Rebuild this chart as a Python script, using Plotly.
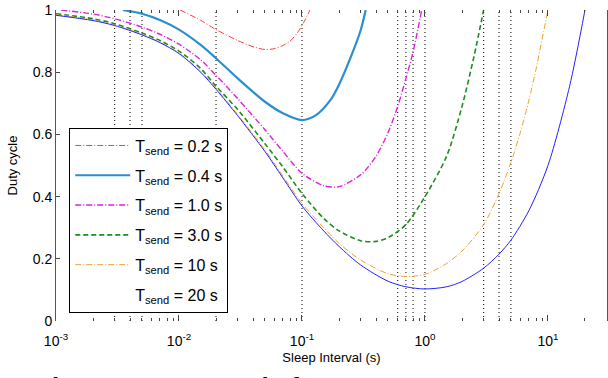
import plotly.graph_objects as go

# ---- data ----
t_02 = [0.0102, 0.015, 0.02, 0.03, 0.04, 0.05, 0.06, 0.07, 0.08, 0.093, 0.105, 0.116]
d_02 = [1.0, 0.967, 0.937, 0.902, 0.882, 0.873, 0.876, 0.886, 0.90, 0.93, 0.965, 1.0]

t_04 = [0.0035, 0.005, 0.007, 0.01, 0.015, 0.02, 0.03, 0.05, 0.07, 0.1, 0.13, 0.17, 0.2, 0.25, 0.3, 0.33]
d_04 = [1.0, 0.988, 0.968, 0.937, 0.888, 0.845, 0.78, 0.705, 0.668, 0.646, 0.662, 0.71, 0.76, 0.85, 0.935, 1.0]

t_10 = [0.0011, 0.002, 0.003, 0.005, 0.007, 0.01, 0.015, 0.02, 0.03, 0.05, 0.07, 0.1, 0.15, 0.2, 0.3, 0.4, 0.5, 0.6, 0.7, 0.8, 0.94]
d_10 = [1.0, 0.987, 0.972, 0.945, 0.922, 0.89, 0.84, 0.79, 0.715, 0.615, 0.545, 0.475, 0.435, 0.432, 0.47, 0.53, 0.605, 0.69, 0.78, 0.865, 1.0]

t_30 = [0.001, 0.002, 0.003, 0.005, 0.007, 0.01, 0.015, 0.02, 0.03, 0.05, 0.07, 0.1, 0.15, 0.2, 0.3, 0.4, 0.5, 0.7, 1.0, 1.5, 2.0, 2.5, 3.0]
d_30 = [0.988, 0.972, 0.956, 0.926, 0.902, 0.868, 0.812, 0.755, 0.68, 0.57, 0.495, 0.41, 0.33, 0.29, 0.258, 0.256, 0.268, 0.31, 0.40, 0.53, 0.69, 0.85, 1.0]

t_100 = [0.001, 0.002, 0.003, 0.005, 0.007, 0.01, 0.015, 0.02, 0.03, 0.05, 0.07, 0.1, 0.15, 0.2, 0.3, 0.5, 0.7, 1.0, 1.5, 2.0, 3.0, 4.0, 5.0, 6.0, 7.0, 8.0, 9.0, 10.0]
d_100 = [0.985, 0.968, 0.952, 0.922, 0.897, 0.862, 0.803, 0.748, 0.664, 0.55, 0.466, 0.378, 0.30, 0.25, 0.196, 0.152, 0.143, 0.15, 0.185, 0.225, 0.31, 0.41, 0.51, 0.61, 0.71, 0.81, 0.91, 1.0]

t_200 = [0.001, 0.002, 0.003, 0.005, 0.007, 0.01, 0.015, 0.02, 0.03, 0.05, 0.07, 0.1, 0.15, 0.2, 0.3, 0.5, 0.7, 1.0, 1.5, 2.0, 3.0, 4.0, 5.0, 7.0, 10.0, 15.0, 20.0]
d_200 = [0.983, 0.966, 0.95, 0.92, 0.895, 0.86, 0.80, 0.745, 0.66, 0.545, 0.46, 0.37, 0.29, 0.24, 0.18, 0.128, 0.11, 0.103, 0.11, 0.127, 0.17, 0.215, 0.26, 0.355, 0.5, 0.755, 1.0]

legend_names = ["T<sub>send</sub> = 0.2 s", "T<sub>send</sub> = 0.4 s", "T<sub>send</sub> = 1.0 s",
                "T<sub>send</sub> = 3.0 s", "T<sub>send</sub> = 10 s", "T<sub>send</sub> = 20 s"]

grid_x = [0.003, 0.004, 0.005, 0.02, 0.1, 0.6, 0.7, 0.8, 1, 3, 4, 5]
major_ticks = [0.001, 0.01, 0.1, 1, 10]
major_text = ["10<sup>-3</sup>", "10<sup>-2</sup>", "10<sup>-1</sup>", "10<sup>0</sup>", "10<sup>1</sup>"]
minor_ticks = [m * 10 ** e for e in (-3, -2, -1, 0, 1) for m in range(2, 10)]
y_ticks = [0, 0.2, 0.4, 0.6, 0.8, 1]
y_text = ["0", "0.2", "0.4", "0.6", "0.8", "1"]

series = [
    (t_02, d_02, "#ff3b3b", 1.0, "6px,2px,1px,2px"),
    (t_04, d_04, "#2a8fd0", 2.2, "solid"),
    (t_10, d_10, "#dd22dd", 1.4, "6px,2px,1px,2px"),
    (t_30, d_30, "#1e8c1e", 1.6, "5px,3px"),
    (t_100, d_100, "#f0a030", 1.0, "6px,2px,1px,2px"),
    (t_200, d_200, "#2222ff", 1.0, "solid"),
]

fig = go.Figure()
for i, (tx, dy, col, w, dash) in enumerate(series):
    last = i == len(series) - 1
    fig.add_trace(go.Scatter(
        x=tx, y=dy, mode="lines", name=legend_names[i],
        line=dict(color=col, width=w, dash=dash, shape="spline", smoothing=0.8),
        legendgroup=f"g{i}", showlegend=not last))
# legend entry for the last series (no visible sample in the reference)
fig.add_trace(go.Scatter(x=[None], y=[None], mode="lines", name=legend_names[-1],
                         line=dict(color="rgba(0,0,0,0)", width=1), legendgroup="g5"))

for gx in grid_x:
    fig.add_shape(type="line", xref="x", yref="paper", x0=gx, x1=gx, y0=0, y1=1,
                  line=dict(color="black", width=1, dash="1px,3px"), layer="below")

font = "Liberation Sans, Arial, sans-serif"
fig.update_layout(
    width=608, height=378,
    margin=dict(l=56, r=1, t=10, b=57),
    paper_bgcolor="white", plot_bgcolor="white",
    font=dict(family=font, size=14, color="black"),
    legend=dict(x=0.024, y=0.622, xanchor="left", yanchor="top",
                bgcolor="white", bordercolor="black", borderwidth=1,
                font=dict(size=16, family=font), tracegroupgap=6,
                itemwidth=55, traceorder="grouped"),
    xaxis=dict(type="log", range=[-3, 1.48], tickvals=major_ticks, ticktext=major_text,
               ticks="inside", ticklen=6, tickcolor="#444", mirror="ticks",
               showline=False, showgrid=False, zeroline=False,
               ticklabelstandoff=10,
               minor=dict(tickvals=minor_ticks, ticks="inside", ticklen=3, tickcolor="#444"),
               title=dict(text="Sleep Interval (s)", font=dict(size=13), standoff=4),
               tickfont=dict(size=14)),
    yaxis=dict(range=[0, 1], tickvals=y_ticks, ticktext=y_text,
               ticks="inside", ticklen=4, tickcolor="#444",
               showline=True, linecolor="#555", linewidth=1, mirror=True,
               showgrid=False, zeroline=False,
               title=dict(text="Duty cycle", font=dict(size=13), standoff=12),
               tickfont=dict(size=14)),
)

fig.add_annotation(text="<b>Figure 7: Duty cycle for 6LoWPAN</b>", xref="paper", yref="paper",
                   x=-0.04, y=-0.157, xanchor="left", yanchor="top", showarrow=False,
                   font=dict(size=26, family=font, color="black"))

fig.write_html("out.html")
